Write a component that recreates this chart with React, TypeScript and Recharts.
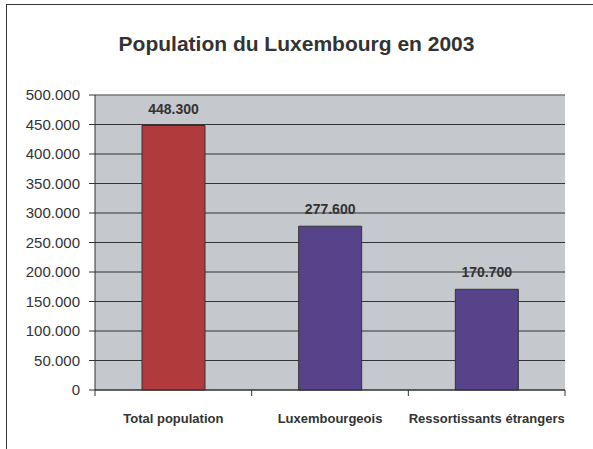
import React from 'react';
import {
  BarChart,
  Bar,
  XAxis,
  YAxis,
  CartesianGrid,
  Cell,
  LabelList,
  ReferenceLine,
} from 'recharts';

const categories = ['Total population', 'Luxembourgeois', 'Ressortissants étrangers'];
const population = [448300, 277600, 170700];
const yTicks = [0, 50000, 100000, 150000, 200000, 250000, 300000, 350000, 400000, 450000, 500000];
const barColors = ['#b03a3c', '#56438a', '#56438a'];

const data = categories.map((name, i) => ({ name, value: population[i] }));

const font = '"Liberation Sans", Arial, sans-serif';
const fmt = (v: number) => (v === 0 ? '0' : v.toLocaleString('de-DE'));

const TICK_SIZE = 6;
const TICK_MARGIN = 18;

// category label plus tick marks on the category boundaries
const CategoryTick = (props: any) => {
  const { x, y, payload, index, visibleTicksCount } = props;
  const half = payload.offset || 0;
  const axisY = y - TICK_SIZE - TICK_MARGIN;
  const isLast = index === visibleTicksCount - 1;
  return (
    <g>
      <line x1={x - half} x2={x - half} y1={axisY} y2={axisY + TICK_SIZE} stroke="#333" />
      {isLast && <line x1={x + half} x2={x + half} y1={axisY} y2={axisY + TICK_SIZE} stroke="#333" />}
      <text
        x={x}
        y={y}
        dy="0.71em"
        textAnchor="middle"
        fill="#333"
        fontSize={13}
        fontWeight="bold"
        fontFamily={font}
      >
        {payload.value}
      </text>
    </g>
  );
};

export default function App() {
  return (
    <div style={{ position: 'absolute', left: 0, top: 0, width: 593, height: 449, background: '#fff', fontFamily: font }}>
      <div
        style={{
          position: 'absolute',
          left: 6,
          top: 4,
          width: 620,
          height: 460,
          borderLeft: '1px solid #333',
          borderTop: '1px solid #333',
        }}
      />
      <div
        style={{
          position: 'absolute',
          left: 0,
          width: 593,
          top: 32,
          textAlign: 'center',
          fontSize: 21,
          fontWeight: 'bold',
          color: '#333',
        }}
      >
        Population du Luxembourg en 2003
      </div>
      <div style={{ position: 'absolute', left: 0, top: 0 }}>
        <BarChart
          width={593}
          height={449}
          data={data}
          margin={{ top: 95, right: 28, left: 0, bottom: 14 }}
          barCategoryGap="30%"
        >
          <CartesianGrid vertical={false} stroke="#333" fill="#c5c8cd" />
          <XAxis
            dataKey="name"
            height={45}
            tickLine={false}
            axisLine={{ stroke: '#333' }}
            tickSize={TICK_SIZE}
            tickMargin={TICK_MARGIN}
            interval={0}
            tick={CategoryTick}
          />
          <YAxis
            width={95}
            domain={[0, 500000]}
            ticks={yTicks}
            tickFormatter={fmt}
            tickSize={6}
            tickMargin={9}
            tickLine={{ stroke: '#333' }}
            axisLine={{ stroke: '#333' }}
            tick={{ fill: '#333', fontSize: 15, fontFamily: font }}
          />
          <YAxis
            yAxisId="right"
            orientation="right"
            width={0}
            domain={[0, 500000]}
            tick={false}
            tickLine={false}
            axisLine={{ stroke: '#999' }}
          />
          <ReferenceLine y={500000} stroke="#999" />
          <Bar dataKey="value" stroke="#333" strokeWidth={1} isAnimationActive={false}>
            {data.map((d, i) => (
              <Cell key={d.name} fill={barColors[i]} />
            ))}
            <LabelList
              dataKey="value"
              position="top"
              offset={12}
              formatter={(v: number) => fmt(v)}
              style={{ fill: '#333', fontSize: 14, fontWeight: 'bold', fontFamily: font }}
            />
          </Bar>
        </BarChart>
      </div>
    </div>
  );
}
